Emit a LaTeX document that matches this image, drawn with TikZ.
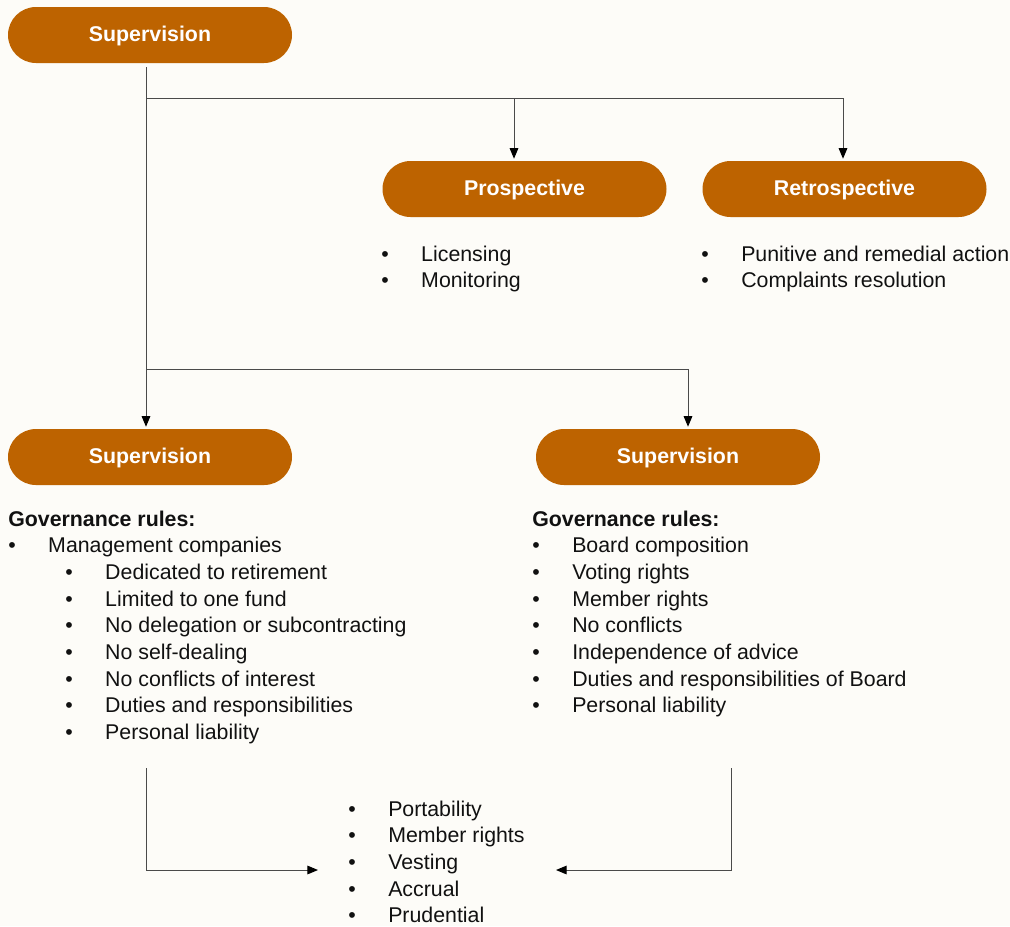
\documentclass[tikz,border=0pt]{standalone}
\usepackage{fontspec}
\setmainfont{Liberation Sans}
\usetikzlibrary{positioning,arrows.meta}

\definecolor{boxorange}{HTML}{BD6300}
\definecolor{paper}{HTML}{FDFCF8}
\definecolor{linegray}{HTML}{4A4A4A}
\definecolor{ink}{HTML}{111111}

\newcommand{\bul}{\makebox[30pt][l]{\textbullet}}
\newcommand{\subbul}{\hspace*{42.75pt}\bul}
\newcommand{\firstln}{\rule{0pt}{12pt}}

\tikzset{
  pill/.style={rectangle, rounded corners=21pt, fill=boxorange, text=white,
    minimum width=213pt, minimum height=42pt, inner sep=0pt,
    text height=9.3pt, text depth=0pt,
    font=\bfseries\fontsize{16}{19}\selectfont},
  itemlist/.style={anchor=north west, align=left, inner sep=0pt, text=ink,
    font=\fontsize{16}{20}\selectfont},
  conn/.style={draw=linegray, line width=0.75pt},
  arrowline/.style={conn, -{Triangle[length=8pt,width=6.5pt,color=black]}},
}

\begin{document}
\begin{tikzpicture}[x=0.75pt,y=-0.75pt]
  \fill[paper] (0,0) rectangle (1010,926);
  \useasboundingbox (0,0) rectangle (1010,926);

  % boxes
  \node[pill] (sup) at (150,35) {Supervision};
  \node[pill] (pro) at (524.5,189) {Prospective};
  \node[pill] (retro) at (844.5,189) {Retrospective};
  \node[pill] (supL) at (150,457) {Supervision};
  \node[pill] (supR) at (678,457) {Supervision};

  % lists
  \node[itemlist] (proList) at (381,245) {\firstln\bul Licensing\\ \bul Monitoring};
  \node[itemlist] (retroList) at (701,245) {\firstln\bul Punitive and remedial action\\ \bul Complaints resolution};
  \node[itemlist] (govL) at (8,510) {\firstln\textbf{Governance rules:}\\
    \bul Management companies\\
    \subbul Dedicated to retirement\\
    \subbul Limited to one fund\\
    \subbul No delegation or subcontracting\\
    \subbul No self-dealing\\
    \subbul No conflicts of interest\\
    \subbul Duties and responsibilities\\
    \subbul Personal liability};
  \node[itemlist] (govR) at (532,510) {\firstln\textbf{Governance rules:}\\
    \bul Board composition\\
    \bul Voting rights\\
    \bul Member rights\\
    \bul No conflicts\\
    \bul Independence of advice\\
    \bul Duties and responsibilities of Board\\
    \bul Personal liability};
  \node[itemlist] (common) at (348,800) {\firstln\bul Portability\\
    \bul Member rights\\
    \bul Vesting\\
    \bul Accrual\\
    \bul Prudential};

  % junctions
  \coordinate (trunk) at (146,98);
  \coordinate (proTap) at (514,98);
  \coordinate (retroTap) at (843,98);
  \coordinate (split) at (146,369);
  \coordinate (splitR) at (688,369);
  \coordinate (leftFoot) at (146,768);
  \coordinate (rightFoot) at (731,768);
  \coordinate (leftIn) at (318,870);
  \coordinate (rightIn) at (556,870);

  % connectors
  \draw[arrowline, shorten <=3pt, shorten >=1.5pt] (sup.south -| trunk) -- (supL.north -| trunk);
  \draw[conn] (trunk) -- (retroTap);
  \draw[arrowline, shorten >=1.5pt] (proTap) -- (proTap |- pro.north);
  \draw[arrowline, shorten >=1.5pt] (retroTap) -- (retroTap |- retro.north);
  \draw[arrowline, shorten >=1.5pt] (split) -| (supR.north -| splitR);
  \draw[arrowline] (leftFoot) |- (leftIn);
  \draw[arrowline] (rightFoot) |- (rightIn);
\end{tikzpicture}
\end{document}
